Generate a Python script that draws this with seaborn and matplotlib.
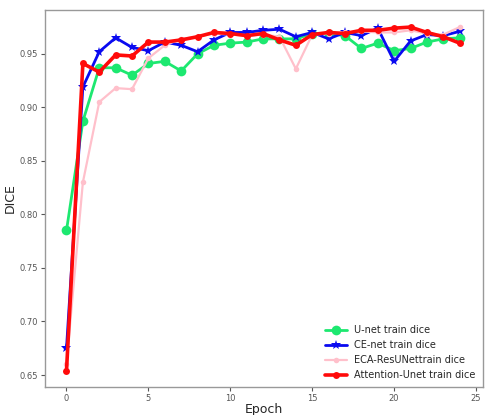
import matplotlib
matplotlib.use("Agg")
import matplotlib.pyplot as plt
import seaborn as sns
import numpy as np

# ---------------- data ----------------
epochs = list(range(25))
unet = [0.785, 0.887, 0.937, 0.937, 0.930, 0.941, 0.943, 0.934, 0.950, 0.958,
        0.960, 0.961, 0.964, 0.964, 0.964, 0.969, 0.969, 0.967, 0.955, 0.960,
        0.953, 0.955, 0.961, 0.964, 0.965]
cenet = [0.675, 0.919, 0.952, 0.965, 0.956, 0.953, 0.961, 0.958, 0.952, 0.963,
         0.970, 0.970, 0.972, 0.973, 0.966, 0.970, 0.964, 0.970, 0.967, 0.974,
         0.943, 0.962, 0.968, 0.967, 0.971]
eca = [0.660, 0.830, 0.905, 0.918, 0.917, 0.946, 0.958, 0.964, 0.966, 0.969,
       0.968, 0.967, 0.968, 0.966, 0.936, 0.968, 0.969, 0.970, 0.971, 0.970,
       0.970, 0.972, 0.969, 0.968, 0.975]
attn = [0.654, 0.941, 0.933, 0.949, 0.948, 0.961, 0.961, 0.963, 0.966, 0.970,
        0.969, 0.967, 0.969, 0.963, 0.958, 0.968, 0.970, 0.969, 0.972, 0.972,
        0.974, 0.975, 0.970, 0.966, 0.960]
labels = ["U-net train dice", "CE-net train dice",
          "ECA-ResUNettrain dice", "Attention-Unet train dice"]

sns.set_style("white")
fig = plt.figure(figsize=(4.86, 4.15), dpi=100)
ax = fig.add_axes([0.093, 0.068, 0.9, 0.908])

# ---------------- plotting ----------------
sns.lineplot(x=epochs, y=unet, ax=ax, color="#1de870", lw=2, marker="o",
             markersize=7, markeredgewidth=0, label=labels[0])
sns.lineplot(x=epochs, y=cenet, ax=ax, color="#0a0af0", lw=2, marker="*",
             markersize=7, markeredgewidth=0, label=labels[1])
sns.lineplot(x=epochs, y=eca, ax=ax, color="#ffc0cb", lw=1.6, marker="o",
             markersize=4, markeredgewidth=0, label=labels[2])
sns.lineplot(x=epochs, y=attn, ax=ax, color="#ff0a0a", lw=2.6, marker="o",
             markersize=5, markeredgewidth=0, label=labels[3])

ax.set_xlim(-1.3, 25.4)
ax.set_ylim(0.639, 0.991)
ax.set_xticks([0, 5, 10, 15, 20, 25])
ax.set_yticks([0.65, 0.70, 0.75, 0.80, 0.85, 0.90, 0.95])
ax.tick_params(axis="both", labelsize=6, colors="#555555", length=3, pad=2,
               direction="out", bottom=True, left=True)
for s in ax.spines.values():
    s.set_color("#999999")
    s.set_linewidth(1)
ax.set_xlabel("Epoch", fontsize=9, labelpad=0)
ax.set_ylabel("DICE", fontsize=9, labelpad=2)

leg = ax.legend(loc="lower right", fontsize=7, frameon=True, fancybox=False,
                edgecolor="white", framealpha=1, handlelength=2.2,
                borderaxespad=0.3, labelspacing=0.5)

fig.savefig("out.png", dpi=100)
